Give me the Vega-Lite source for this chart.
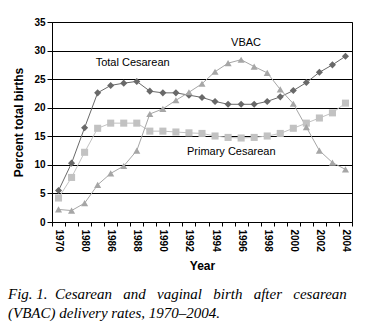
{
  "$schema": "https://vega.github.io/schema/vega-lite/v6.json",
  "width": 300,
  "height": 200,
  "autosize": {"type": "none"},
  "padding": {"left": 52, "top": 22, "right": 31, "bottom": 105},
  "background": "#ffffff",
  "config": {
    "view": {"stroke": "#000000", "strokeWidth": 1},
    "font": "Liberation Sans"
  },
  "title": {
    "text": ["Fig. 1.\u00a0 Cesarean\u00a0\u00a0 and\u00a0\u00a0 vaginal\u00a0\u00a0 birth\u00a0\u00a0 after\u00a0\u00a0 cesarean", "(VBAC) delivery rates, 1970–2004."],
    "orient": "bottom",
    "anchor": "start",
    "frame": "group",
    "font": "Liberation Serif",
    "fontStyle": "italic",
    "fontWeight": "normal",
    "fontSize": 15,
    "lineHeight": 18.6,
    "color": "#000000",
    "dx": -44,
    "offset": 16
  },
  "datasets": {
    "rates": [
      {"Year": "1970", "series": "Total Cesarean", "value": 5.5},
      {"Year": "1975", "series": "Total Cesarean", "value": 10.3},
      {"Year": "1980", "series": "Total Cesarean", "value": 16.5},
      {"Year": "1985", "series": "Total Cesarean", "value": 22.6},
      {"Year": "1986", "series": "Total Cesarean", "value": 23.9},
      {"Year": "1987", "series": "Total Cesarean", "value": 24.3},
      {"Year": "1988", "series": "Total Cesarean", "value": 24.6},
      {"Year": "1989", "series": "Total Cesarean", "value": 22.9},
      {"Year": "1990", "series": "Total Cesarean", "value": 22.6},
      {"Year": "1991", "series": "Total Cesarean", "value": 22.6},
      {"Year": "1992", "series": "Total Cesarean", "value": 22.2},
      {"Year": "1993", "series": "Total Cesarean", "value": 21.8},
      {"Year": "1994", "series": "Total Cesarean", "value": 21.1},
      {"Year": "1995", "series": "Total Cesarean", "value": 20.6},
      {"Year": "1996", "series": "Total Cesarean", "value": 20.6},
      {"Year": "1997", "series": "Total Cesarean", "value": 20.6},
      {"Year": "1998", "series": "Total Cesarean", "value": 21.1},
      {"Year": "1999", "series": "Total Cesarean", "value": 21.9},
      {"Year": "2000", "series": "Total Cesarean", "value": 23.0},
      {"Year": "2001", "series": "Total Cesarean", "value": 24.4},
      {"Year": "2002", "series": "Total Cesarean", "value": 26.2},
      {"Year": "2003", "series": "Total Cesarean", "value": 27.5},
      {"Year": "2004", "series": "Total Cesarean", "value": 29.0},
      {"Year": "1970", "series": "Primary Cesarean", "value": 4.2},
      {"Year": "1975", "series": "Primary Cesarean", "value": 7.8},
      {"Year": "1980", "series": "Primary Cesarean", "value": 12.2},
      {"Year": "1985", "series": "Primary Cesarean", "value": 16.4},
      {"Year": "1986", "series": "Primary Cesarean", "value": 17.3},
      {"Year": "1987", "series": "Primary Cesarean", "value": 17.3},
      {"Year": "1988", "series": "Primary Cesarean", "value": 17.3},
      {"Year": "1989", "series": "Primary Cesarean", "value": 15.9},
      {"Year": "1990", "series": "Primary Cesarean", "value": 15.9},
      {"Year": "1991", "series": "Primary Cesarean", "value": 15.75},
      {"Year": "1992", "series": "Primary Cesarean", "value": 15.6},
      {"Year": "1993", "series": "Primary Cesarean", "value": 15.5},
      {"Year": "1994", "series": "Primary Cesarean", "value": 15.05},
      {"Year": "1995", "series": "Primary Cesarean", "value": 14.8},
      {"Year": "1996", "series": "Primary Cesarean", "value": 14.7},
      {"Year": "1997", "series": "Primary Cesarean", "value": 14.8},
      {"Year": "1998", "series": "Primary Cesarean", "value": 15.05},
      {"Year": "1999", "series": "Primary Cesarean", "value": 15.5},
      {"Year": "2000", "series": "Primary Cesarean", "value": 16.4},
      {"Year": "2001", "series": "Primary Cesarean", "value": 17.3},
      {"Year": "2002", "series": "Primary Cesarean", "value": 18.2},
      {"Year": "2003", "series": "Primary Cesarean", "value": 19.1},
      {"Year": "2004", "series": "Primary Cesarean", "value": 20.8},
      {"Year": "1970", "series": "VBAC", "value": 2.2},
      {"Year": "1975", "series": "VBAC", "value": 2.0},
      {"Year": "1980", "series": "VBAC", "value": 3.3},
      {"Year": "1985", "series": "VBAC", "value": 6.5},
      {"Year": "1986", "series": "VBAC", "value": 8.5},
      {"Year": "1987", "series": "VBAC", "value": 9.8},
      {"Year": "1988", "series": "VBAC", "value": 12.5},
      {"Year": "1989", "series": "VBAC", "value": 18.9},
      {"Year": "1990", "series": "VBAC", "value": 19.8},
      {"Year": "1991", "series": "VBAC", "value": 21.3},
      {"Year": "1992", "series": "VBAC", "value": 22.7},
      {"Year": "1993", "series": "VBAC", "value": 24.2},
      {"Year": "1994", "series": "VBAC", "value": 26.3},
      {"Year": "1995", "series": "VBAC", "value": 27.8},
      {"Year": "1996", "series": "VBAC", "value": 28.4},
      {"Year": "1997", "series": "VBAC", "value": 27.2},
      {"Year": "1998", "series": "VBAC", "value": 26.1},
      {"Year": "1999", "series": "VBAC", "value": 23.2},
      {"Year": "2000", "series": "VBAC", "value": 20.7},
      {"Year": "2001", "series": "VBAC", "value": 16.6},
      {"Year": "2002", "series": "VBAC", "value": 12.5},
      {"Year": "2003", "series": "VBAC", "value": 10.4},
      {"Year": "2004", "series": "VBAC", "value": 9.2}
    ],
    "labels": [
      {"Year": "1985", "value": 27.9, "label": "Total Cesarean"},
      {"Year": "1992", "value": 12.3, "label": "Primary Cesarean"}
    ],
    "labels2": [
      {"Year": "1995", "value": 31.3, "label": "VBAC"}
    ]
  },
  "encoding": {
    "x": {
      "field": "Year",
      "type": "ordinal",
      "scale": {"type": "band", "paddingInner": 0, "paddingOuter": 0},
      "axis": {
        "title": "Year",
        "tickBand": "extent",
        "labelAngle": 90,
        "labelAlign": "left",
        "labelBaseline": "middle",
        "labelOverlap": false,
        "labelExpr": "indexof(['1970','1980','1986','1988','1990','1992','1994','1996','1998','2000','2002','2004'], datum.label) >= 0 ? datum.label : ''",
        "labelFont": "Liberation Sans",
        "labelFontWeight": "bold",
        "labelFontSize": 10,
        "labelColor": "#000000",
        "labelPadding": 3,
        "tickColor": "#000000",
        "tickSize": 4,
        "domainColor": "#000000",
        "grid": false,
        "titleFont": "Liberation Sans",
        "titleFontWeight": "bold",
        "titleFontSize": 12,
        "titleColor": "#000000",
        "titlePadding": 9
      }
    },
    "y": {
      "field": "value",
      "type": "quantitative",
      "scale": {"domain": [0, 35], "nice": false},
      "axis": {
        "title": "Percent total births",
        "values": [0, 5, 10, 15, 20, 25, 30, 35],
        "grid": true,
        "gridColor": "#000000",
        "gridWidth": 1,
        "gridOpacity": 1,
        "tickColor": "#000000",
        "tickSize": 5,
        "domainColor": "#000000",
        "labelFont": "Liberation Sans",
        "labelFontWeight": "bold",
        "labelFontSize": 10,
        "labelColor": "#000000",
        "labelPadding": 2,
        "titleFont": "Liberation Sans",
        "titleFontWeight": "bold",
        "titleFontSize": 12,
        "titleColor": "#000000",
        "titlePadding": 8
      }
    }
  },
  "layer": [
    {
      "data": {"name": "rates"},
      "mark": {"type": "line", "strokeWidth": 1},
      "encoding": {
        "color": {
          "field": "series",
          "type": "nominal",
          "scale": {"domain": ["Total Cesarean", "Primary Cesarean", "VBAC"], "range": ["#696969", "#c2c2c2", "#a6a6a6"]},
          "legend": null
        }
      }
    },
    {
      "data": {"name": "rates"},
      "mark": {"type": "point", "filled": true, "opacity": 1, "size": 50},
      "encoding": {
        "color": {
          "field": "series",
          "type": "nominal",
          "scale": {"domain": ["Total Cesarean", "Primary Cesarean", "VBAC"], "range": ["#696969", "#c2c2c2", "#a6a6a6"]},
          "legend": null
        },
        "shape": {
          "field": "series",
          "type": "nominal",
          "scale": {"domain": ["Total Cesarean", "Primary Cesarean", "VBAC"], "range": ["diamond", "square", "triangle-up"]},
          "legend": null
        }
      }
    },
    {
      "data": {"name": "labels"},
      "mark": {"type": "text", "align": "left", "baseline": "middle", "font": "Liberation Sans", "fontSize": 11, "color": "#000000", "dx": -2},
      "encoding": {
        "text": {"field": "label", "type": "nominal"}
      }
    },
    {
      "data": {"name": "labels2"},
      "mark": {"type": "text", "align": "left", "baseline": "middle", "font": "Liberation Sans", "fontSize": 11, "color": "#000000", "dx": 3},
      "encoding": {
        "text": {"field": "label", "type": "nominal"}
      }
    }
  ]
}
